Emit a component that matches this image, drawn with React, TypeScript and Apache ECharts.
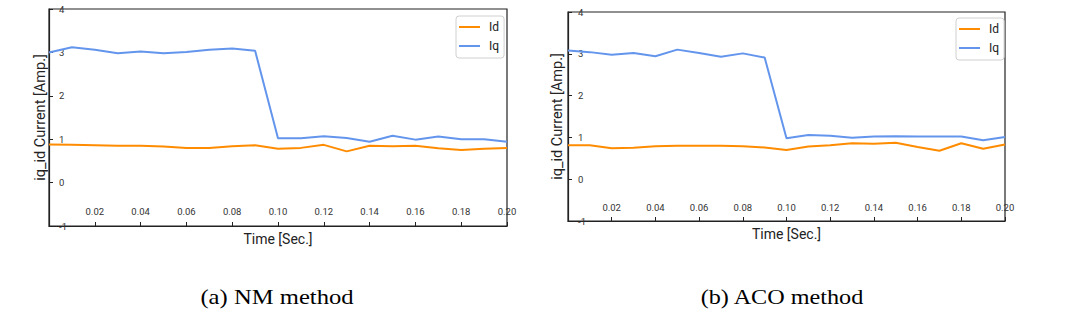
import React, { useEffect, useRef } from "react";
import * as echarts from "echarts";

const times = [0, 0.01, 0.02, 0.03, 0.04, 0.05, 0.06, 0.07, 0.08, 0.09, 0.1, 0.11, 0.12, 0.13, 0.14, 0.15, 0.16, 0.17, 0.18, 0.19, 0.2];

const nmId = [0.88, 0.87, 0.86, 0.85, 0.85, 0.83, 0.8, 0.8, 0.84, 0.86, 0.78, 0.8, 0.87, 0.72, 0.85, 0.84, 0.85, 0.79, 0.75, 0.78, 0.8];
const nmIq = [3.0, 3.12, 3.06, 2.98, 3.02, 2.98, 3.01, 3.06, 3.09, 3.04, 1.02, 1.02, 1.07, 1.03, 0.94, 1.08, 0.99, 1.06, 1.0, 1.0, 0.94];
const acoId = [0.81, 0.81, 0.74, 0.75, 0.79, 0.8, 0.8, 0.8, 0.79, 0.76, 0.7, 0.78, 0.81, 0.86, 0.85, 0.87, 0.77, 0.68, 0.86, 0.73, 0.83];
const acoIq = [3.08, 3.04, 2.98, 3.02, 2.94, 3.1, 3.02, 2.93, 3.01, 2.91, 0.98, 1.06, 1.04, 0.99, 1.02, 1.03, 1.02, 1.02, 1.02, 0.93, 1.01];

const seriesNames = ["Id", "Iq"];
const captions = ["(a) NM method", "(b) ACO method"];
const xTitle = "Time [Sec.]";
const yTitle = "iq_id Current [Amp.]";

const ORANGE = "#ff8c00";
const BLUE = "#6495ed";
const NARROW = "Roboto, 'Liberation Sans', sans-serif";

function pairs(vals: number[]) {
  return times.map((t, i) => [t, vals[i]]);
}

function xAxisFor(gridIndex: number, labelMargin: number, nameGap: number) {
  return {
    type: "value",
    gridIndex,
    min: 0,
    max: 0.2,
    interval: 0.02,
    name: xTitle,
    nameLocation: "middle",
    nameGap,
    nameTextStyle: { fontSize: 14, color: "#222", fontFamily: NARROW },
    axisLine: { show: true, onZero: false, lineStyle: { color: "#222", width: 1.2 } },
    axisTick: { show: true, inside: true, length: 4, lineStyle: { color: "#222" } },
    axisLabel: {
      inside: true,
      margin: labelMargin,
      fontSize: 9.5,
      color: "#333",
      fontFamily: NARROW,
      showMinLabel: true,
      showMaxLabel: true,
      formatter: (v: number) => (v < 0.001 ? "" : v.toFixed(2)),
    },
    splitLine: { show: false },
  };
}

function yAxisFor(gridIndex: number, nameGap: number) {
  return {
    type: "value",
    gridIndex,
    min: -1,
    max: 4,
    interval: 1,
    name: yTitle,
    nameLocation: "middle",
    nameRotate: 90,
    nameGap,
    nameTextStyle: { fontSize: 14.5, color: "#222", fontFamily: NARROW },
    axisLine: { show: true, onZero: false, lineStyle: { color: "#222", width: 1.2 } },
    axisTick: { show: true, inside: true, length: 4, lineStyle: { color: "#222" } },
    axisLabel: {
      inside: true,
      margin: 10,
      fontSize: 9.5,
      color: "#333",
      fontFamily: NARROW,
      showMinLabel: true,
      showMaxLabel: true,
    },
    splitLine: { show: false },
  };
}

function legendAt(left: number, top: number) {
  return {
    orient: "vertical",
    left,
    top,
    padding: [4, 5, 5, 3],
    itemWidth: 21,
    itemHeight: 2,
    itemGap: 5,
    icon: "rect",
    borderColor: "#d0d0d0",
    borderWidth: 1,
    borderRadius: 3,
    backgroundColor: "#fff",
    textStyle: { fontSize: 12, lineHeight: 14, color: "#222", fontFamily: NARROW, padding: [0, 0, 0, 4] },
    data: seriesNames,
  };
}

function lineSeries(name: string, color: string, vals: number[], idx: number) {
  return {
    type: "line",
    name,
    xAxisIndex: idx,
    yAxisIndex: idx,
    data: pairs(vals),
    showSymbol: false,
    symbol: "none",
    color,
    lineStyle: { color, width: 2 },
  };
}

export default function App() {
  const ref = useRef<HTMLDivElement>(null);
  useEffect(() => {
    if (!ref.current) return;
    const chart = echarts.init(ref.current, null, { renderer: "svg" });
    chart.setOption({
      animation: false,
      backgroundColor: "#fff",
      grid: [
        { left: 49, top: 9, width: 458, height: 217, show: true, borderColor: "#222", borderWidth: 1.2, backgroundColor: "transparent" },
        { left: 568, top: 12, width: 437, height: 209, show: true, borderColor: "#222", borderWidth: 1.2, backgroundColor: "transparent" },
      ],
      xAxis: [xAxisFor(0, 10, 6), xAxisFor(1, 9, 4)],
      yAxis: [yAxisFor(0, 1), yAxisFor(1, 3)],
      legend: [legendAt(456, 16), legendAt(956, 18)],
      series: [
        lineSeries(seriesNames[0], ORANGE, nmId, 0),
        lineSeries(seriesNames[1], BLUE, nmIq, 0),
        lineSeries(seriesNames[0], ORANGE, acoId, 1),
        lineSeries(seriesNames[1], BLUE, acoIq, 1),
      ],
      graphic: [
        {
          type: "text",
          x: 277,
          y: 296,
          scaleX: 1.12,
          style: { text: captions[0], font: "22px 'Liberation Serif', serif", fill: "#000", textAlign: "center", textVerticalAlign: "middle" },
        },
        {
          type: "text",
          x: 782,
          y: 296,
          scaleX: 1.1,
          style: { text: captions[1], font: "22px 'Liberation Serif', serif", fill: "#000", textAlign: "center", textVerticalAlign: "middle" },
        },
      ],
    });
    return () => chart.dispose();
  }, []);
  return <div ref={ref} style={{ position: "fixed", left: 0, top: 0, width: 1071, height: 322 }} />;
}
